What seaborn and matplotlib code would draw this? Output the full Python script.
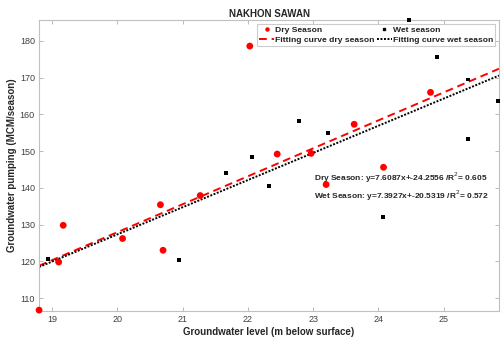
import numpy as np
import pandas as pd
import seaborn as sns
import matplotlib.pyplot as plt
from matplotlib.lines import Line2D

# --- data ---
dry_x = [18.80, 19.10, 19.17, 20.08, 20.66, 20.70, 21.27, 22.03, 22.45, 22.97, 23.20, 23.63, 24.08, 24.80]
dry_y = [106.7, 119.8, 129.8, 126.2, 135.4, 123.0, 137.9, 178.6, 149.2, 149.4, 140.9, 157.3, 145.6, 166.0]

wet_x = [18.93, 20.94, 21.66, 22.07, 22.32, 22.79, 23.23, 24.07, 24.47, 24.90, 25.37, 25.38, 25.83]
wet_y = [120.6, 120.3, 144.0, 148.5, 140.4, 158.2, 154.9, 132.0, 185.6, 175.6, 169.5, 153.4, 163.7]

dry_slope, dry_icpt, dry_r2 = 7.6087, -24.2556, 0.605
wet_slope, wet_icpt, wet_r2 = 7.3927, -20.5319, 0.572

XLIM = (18.8, 25.85)
YLIM = (106.5, 185.7)

sns.set_theme(style="white")
plt.rcParams['font.family'] = ['Liberation Sans', 'DejaVu Sans']

fig = plt.figure(figsize=(5.01, 3.39), dpi=100)
ax = fig.add_axes([0.078, 0.083, 0.918, 0.858])

dry = pd.DataFrame({"x": dry_x, "y": dry_y})
wet = pd.DataFrame({"x": wet_x, "y": wet_y})

# fitted lines from the printed equations
xf = np.linspace(XLIM[0], XLIM[1], 50)
fit = pd.DataFrame({"x": xf,
                    "dry": dry_slope * xf + dry_icpt,
                    "wet": wet_slope * xf + wet_icpt})

sns.scatterplot(data=dry, x="x", y="y", ax=ax, color="red", marker="o", s=24,
                edgecolor="none", zorder=3, clip_on=False)
sns.scatterplot(data=wet, x="x", y="y", ax=ax, color="black", marker="s", s=8,
                edgecolor="none", zorder=3, clip_on=False)
sns.lineplot(data=fit, x="x", y="dry", ax=ax, color="red", lw=1.4,
             dashes=False, zorder=2)
sns.lineplot(data=fit, x="x", y="wet", ax=ax, color="black", lw=1.4,
             dashes=False, zorder=2)
ax.lines[0].set_linestyle((0, (4, 2.5)))
ax.lines[1].set_linestyle((0, (1, 0.8)))

ax.set_xlim(*XLIM)
ax.set_ylim(*YLIM)
ax.set_xticks([19, 20, 21, 22, 23, 24, 25])
ax.set_yticks([110, 120, 130, 140, 150, 160, 170, 180])

for s in ax.spines.values():
    s.set_color("#c0c0c0")
    s.set_linewidth(0.8)
ax.tick_params(direction="in", length=3, width=0.6, color="#b0b0b0",
               labelsize=6.5, labelcolor="#404040", top=True, right=True,
               bottom=True, left=True, pad=3)

ax.set_xlabel("Groundwater level (m below surface)", fontsize=7,
              fontweight="bold", labelpad=2)
ax.set_ylabel("Groundwater pumping (MCM/season)", fontsize=7,
              fontweight="bold", labelpad=2)
ax.set_title("NAKHON SAWAN", fontsize=7, fontweight="bold", pad=2)

handles = [
    Line2D([], [], color="red", marker="o", ls="none", markersize=2.2),
    Line2D([], [], color="red", ls=(0, (4, 2.5)), lw=1.4),
    Line2D([], [], color="black", marker="s", ls="none", markersize=1.6),
    Line2D([], [], color="black", ls=(0, (1, 0.8)), lw=1.4),
]
labels = ["Dry Season", "Fitting curve dry season",
          "Wet season", "Fitting curve wet season"]
leg = ax.legend(handles, labels, ncol=2, loc="upper right",
                bbox_to_anchor=(1.0, 1.0), fontsize=6.1, frameon=True,
                fancybox=False, edgecolor="#c0c0c0", handlelength=1.75,
                handletextpad=0.15, columnspacing=0.25, labelspacing=0.25,
                borderpad=0.2, borderaxespad=0.5)
leg.get_frame().set_linewidth(0.8)
for t in leg.get_texts():
    t.set_fontweight("bold")
    t.set_color("#202020")

ax.text(23.02, 142.6,
        f"Dry Season: y={dry_slope}x+{dry_icpt} /R$^2$= {dry_r2}",
        fontsize=6, fontweight="bold", va="center", ha="left")
ax.text(23.02, 137.8,
        f"Wet Season: y={wet_slope}x+{wet_icpt} /R$^2$= {wet_r2}",
        fontsize=6, fontweight="bold", va="center", ha="left")

fig.savefig("out.png", dpi=100)
